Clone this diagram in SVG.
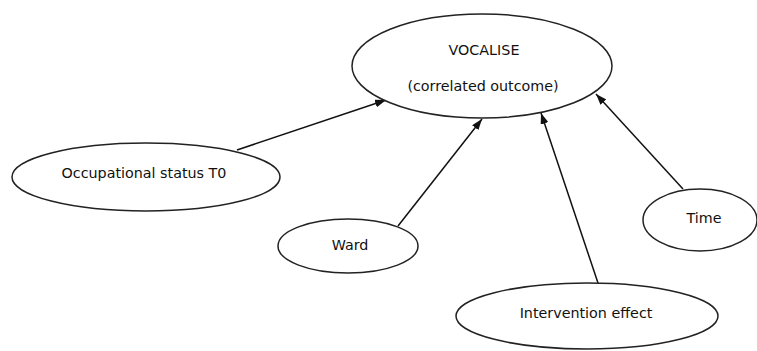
<svg xmlns="http://www.w3.org/2000/svg" width="757" height="351" viewBox="0 0 757 351">
<style>
.n{fill:#fff;stroke:#222;stroke-width:1.5}
.t{font-family:"DejaVu Sans",Verdana,sans-serif;font-size:14.3px;fill:#111;text-anchor:middle}
.c{stroke:#111;stroke-width:1.5;fill:none;marker-end:url(#ah)}
</style>
<defs>
<marker id="ah" viewBox="0 0 10 10" refX="10" refY="5" markerWidth="11" markerHeight="8" orient="auto" markerUnits="userSpaceOnUse" preserveAspectRatio="none">
<path d="M0,0 L10,5 L0,10 z" fill="#111"/>
</marker>
</defs>
<rect width="757" height="351" fill="#fff"/>
<g id="connectors">
<line class="c" x1="237" y1="150" x2="386" y2="100"/>
<line class="c" x1="398" y1="226" x2="482" y2="119"/>
<line class="c" x1="598" y1="283" x2="541" y2="113"/>
<line class="c" x1="683" y1="189" x2="596" y2="94"/>
</g>
<g id="vocalise">
<ellipse class="n" cx="482" cy="66" rx="130" ry="52"/>
<text class="t" x="484" y="55">VOCALISE</text>
<text class="t" x="483" y="91">(correlated outcome)</text>
</g>
<g id="occupational">
<ellipse class="n" cx="146" cy="177" rx="134" ry="34"/>
<text class="t" x="144" y="178">Occupational status T0</text>
</g>
<g id="ward">
<ellipse class="n" cx="348" cy="246" rx="70" ry="27"/>
<text class="t" x="350" y="250">Ward</text>
</g>
<g id="intervention">
<ellipse class="n" cx="587" cy="316" rx="131" ry="33"/>
<text class="t" x="586" y="318">Intervention effect</text>
</g>
<g id="time">
<ellipse class="n" cx="700" cy="220" rx="57" ry="31"/>
<text class="t" x="704" y="223">Time</text>
</g>
</svg>
